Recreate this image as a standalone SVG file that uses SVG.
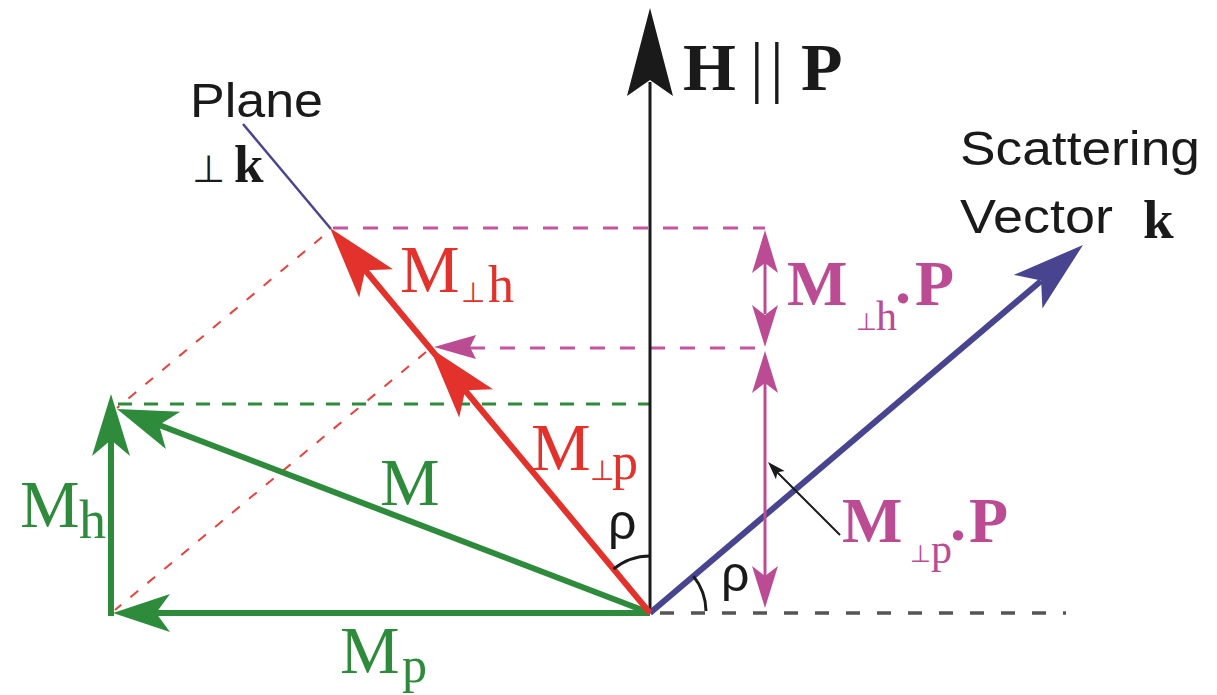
<svg xmlns="http://www.w3.org/2000/svg" width="1217" height="695" viewBox="0 0 1217 695">
<style>
.sans{font-family:"Liberation Sans",Arial,sans-serif;fill:#1a1a1a}
.serif{font-family:"Liberation Serif","DejaVu Serif",serif}
.perp{font-family:"DejaVu Sans","Liberation Sans",sans-serif}
.red{fill:#e3322b}
.grn{fill:#2e8b3c}
.mag{fill:#bb4c94}
.blk{fill:#1a1a1a}
.nvy{fill:#48448f}
.b{font-weight:bold}
</style>
<rect width="1217" height="695" fill="#ffffff"/>
<g id="connectors">
  <!-- dashed guides -->
  <line x1="660" y1="613" x2="1066" y2="613" stroke="#555" stroke-width="3.5" stroke-dasharray="14 17"/>
  <line x1="333" y1="228" x2="765" y2="228" stroke="#c555a0" stroke-width="3" stroke-dasharray="15 15"/>
  <line x1="470" y1="348" x2="765" y2="348" stroke="#c555a0" stroke-width="3" stroke-dasharray="15 15"/>
  <line x1="118" y1="404" x2="650" y2="404" stroke="#2e8b3c" stroke-width="3" stroke-dasharray="14 12"/>
  <line x1="322" y1="237" x2="117" y2="408" stroke="#e8403a" stroke-width="2" stroke-dasharray="10 12"/>
  <line x1="426" y1="352" x2="115" y2="610" stroke="#e8403a" stroke-width="2" stroke-dasharray="10 12"/>
  <!-- plane line -->
  <line x1="243" y1="124" x2="331" y2="229" stroke="#48448f" stroke-width="2.5"/>
  <!-- H axis -->
  <line x1="650" y1="613" x2="650" y2="82" stroke="#1a1a1a" stroke-width="3"/>
  <polygon class="blk" points="650,8 673,96 650,80 627,96"/>
  <!-- scattering vector k -->
  <line x1="650" y1="613" x2="1041" y2="281" stroke="#48448f" stroke-width="6"/>
  <polygon class="nvy" points="1083,245 1042.4,308.5 1041.1,280.6 1013.8,274.9"/>
  <!-- green M components -->
  <line x1="650" y1="613" x2="159" y2="425" stroke="#2e8b3c" stroke-width="6"/>
  <polygon class="grn" points="117,409 180.2,411.7 159,425.1 165.9,449.1"/>
  <line x1="111" y1="616" x2="111" y2="440" stroke="#2e8b3c" stroke-width="6"/>
  <polygon class="grn" points="111,394 130,456 111,440 92,456"/>
  <line x1="650" y1="613" x2="156" y2="613" stroke="#2e8b3c" stroke-width="6"/>
  <polygon class="grn" points="113,613 170,594 156,613 170,632"/>
  <!-- red perpendicular components -->
  <line x1="650" y1="613" x2="365" y2="270" stroke="#e3322b" stroke-width="6"/>
  <polygon class="red" points="330,228 393,269.2 365.2,270.2 359.2,297.4"/>
  <polygon class="red" points="430,348 493,389.2 465.2,390.2 459.2,417.4"/>
  <!-- magenta projection arrows -->
  <polygon class="mag" points="434,347 476,335 470,347 476,359"/>
  <line x1="765" y1="262" x2="765" y2="314" stroke="#bb4c94" stroke-width="3"/>
  <polygon class="mag" points="765,230 778,273 765,263 752,273"/>
  <polygon class="mag" points="765,347 778,305 765,315 752,305"/>
  <line x1="765" y1="383" x2="765" y2="576" stroke="#bb4c94" stroke-width="3"/>
  <polygon class="mag" points="765,351 778,393 765,383 752,393"/>
  <polygon class="mag" points="765,608 778,566 765,576 752,566"/>
  <!-- pointer -->
  <line x1="840" y1="535" x2="776" y2="471" stroke="#1a1a1a" stroke-width="2"/>
  <polygon class="blk" points="768,462 784.7,471.1 777.5,472.2 775.9,479.3"/>
  <!-- angle arcs -->
  <path d="M613.5 569.2 A57 57 0 0 1 650 556" fill="none" stroke="#1a1a1a" stroke-width="3"/>
  <path d="M693.4 576.1 A57 57 0 0 1 706 611" fill="none" stroke="#1a1a1a" stroke-width="3"/>
</g>
<g id="label-H">
  <text class="serif b blk" x="683" y="90" font-size="68">H</text>
  <text class="serif blk" x="750" y="90" font-size="68" letter-spacing="6.4">||</text>
  <text class="serif b blk" x="801" y="90" font-size="68">P</text>
</g>
<g id="label-plane">
  <text class="sans" x="190" y="117" font-size="49" textLength="133" lengthAdjust="spacingAndGlyphs">Plane</text>
  <text class="perp blk" x="192" y="182" font-size="38">⊥</text>
  <text class="serif b blk" x="234" y="182" font-size="53">k</text>
</g>
<g id="label-k">
  <text class="sans" x="960" y="165" font-size="49" textLength="240" lengthAdjust="spacingAndGlyphs">Scattering</text>
  <text class="sans" x="960" y="233" font-size="49" textLength="153" lengthAdjust="spacingAndGlyphs">Vector</text>
  <text class="serif b blk" x="1143" y="238" font-size="55">k</text>
</g>
<g id="label-Mperph">
  <text class="serif red" x="400" y="292" font-size="67">M</text>
  <text class="perp red" x="461" y="302" font-size="28">⊥</text>
  <text class="serif red" x="488" y="302" font-size="52">h</text>
</g>
<g id="label-Mperpp">
  <text class="serif red" x="531" y="470" font-size="67">M</text>
  <text class="perp red" x="590" y="480" font-size="28">⊥</text>
  <text class="serif red" x="612" y="479" font-size="52">p</text>
</g>
<g id="label-M">
  <text class="serif grn" x="380" y="505" font-size="67">M</text>
</g>
<g id="label-Mh">
  <text class="serif grn" x="20" y="527" font-size="67">M</text>
  <text class="serif grn" x="79" y="538" font-size="54">h</text>
</g>
<g id="label-Mp">
  <text class="serif grn" x="340" y="673" font-size="67">M</text>
  <text class="serif grn" x="402" y="682" font-size="50">p</text>
</g>
<g id="label-MperphP">
  <text class="serif b mag" x="787" y="305" font-size="64">M</text>
  <text class="perp mag" x="856" y="330" font-size="24">⊥</text>
  <text class="serif mag" x="876" y="330" font-size="42">h</text>
  <text class="serif b mag" x="895" y="303" font-size="64">.</text>
  <text class="serif b mag" x="915" y="305" font-size="64">P</text>
</g>
<g id="label-MperppP">
  <text class="serif b mag" x="842" y="542" font-size="64">M</text>
  <text class="perp mag" x="910" y="562" font-size="24">⊥</text>
  <text class="serif mag" x="931" y="563" font-size="42">p</text>
  <text class="serif b mag" x="950" y="540" font-size="64">.</text>
  <text class="serif b mag" x="969" y="542" font-size="64">P</text>
</g>
<g id="label-rho">
  <text class="sans" x="608" y="539" font-size="50">ρ</text>
  <text class="sans" x="721" y="591" font-size="50">ρ</text>
</g>
</svg>
